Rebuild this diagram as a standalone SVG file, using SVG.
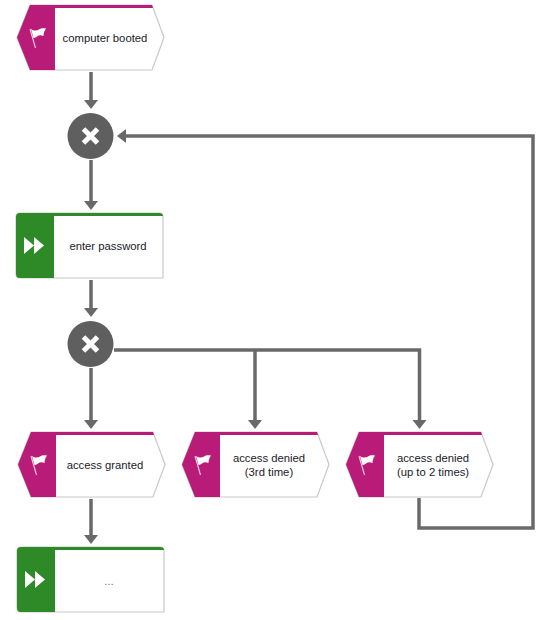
<svg xmlns="http://www.w3.org/2000/svg" width="547" height="620" viewBox="0 0 547 620">
<style>
.body{fill:#fff;stroke:#c8c8c8;stroke-width:1.2}
.ev{fill:#b81c78}
.fn{fill:#2d8a26}
.flag{fill:#fff}
.pole{stroke:#f3cfe3;stroke-width:1.1;fill:none}
.gw{fill:#5f5f5f}
.x{stroke:#fff;stroke-width:5;fill:none}
.c{stroke:#696969;stroke-width:3.500;fill:none}
.h{fill:#696969}
text{font-family:"Liberation Sans",Arial,sans-serif;font-size:11.300px;fill:#1a1a2a;text-anchor:middle}
</style>
<defs>
<g id="event">
<polygon class="body" points="0,32.500 13,0 135,0 147,32.500 135,65 13,65"/>
<polygon class="ev" points="0,32.500 13,0 135,0 136,3 38,3 38,65 13,65"/>
<path class="pole" d="M13,24 L18.500,43"/>
<path class="flag" d="M14,24 C17,26 20,26 22,24.500 C24,23 26,23 29,23.500 C27.500,26 26.500,28 26.500,31 C24,30 22,30 20,31.500 C18.500,33 17,33 16.500,33 Z"/>
</g>
<g id="func">
<path class="body" d="M4,0 H143 Q147,0 147,4 V65 H4 Q0,65 0,61 V4 Q0,0 4,0 Z"/>
<path class="fn" d="M4,0 H143 Q147,0 147,3 H38 V65 H4 Q0,65 0,61 V4 Q0,0 4,0 Z"/>
<path class="flag" d="M8,24 L18,32.500 L18,24 L28,32.500 L18,41 L18,32.500 L8,41 Z"/>
</g>
<g id="gate">
<circle class="gw" r="23"/>
<path class="x" d="M-7,-7 L7,7 M7,-7 L-7,7"/>
</g>
</defs>
<g id="connectors">
<path class="c" d="M91,72 V102"/><polygon class="h" points="84,100 98,100 91,109"/>
<path class="c" d="M91,160 V203"/><polygon class="h" points="84,201 98,201 91,210"/>
<path class="c" d="M91,280 V310"/><polygon class="h" points="84,308 98,308 91,317"/>
<path class="c" d="M91,368 V422"/><polygon class="h" points="84,420 98,420 91,429"/>
<path class="c" d="M114,350 H419.500 V422"/>
<path class="c" d="M255,350 V422"/><polygon class="h" points="248,420 262,420 255,429"/><polygon class="h" points="412.500,420 426.500,420 419.500,429"/>
<path class="c" d="M91,499 V537"/><polygon class="h" points="84,535 98,535 91,544"/>
<path class="c" d="M419,498 V528 H533 V136 H124"/><polygon class="h" points="126,129 126,143 117,136"/>
</g>
<g id="n1"><use href="#event" x="17" y="5"/><text x="105" y="42">computer booted</text></g>
<g id="g1"><use href="#gate" x="90.500" y="136"/></g>
<g id="n2"><use href="#func" x="16" y="213"/><text x="108" y="250">enter password</text></g>
<g id="g2"><use href="#gate" x="90.500" y="344"/></g>
<g id="n3"><use href="#event" x="18" y="432"/><text x="105" y="469">access granted</text></g>
<g id="n4"><use href="#event" x="182" y="432"/><text x="269" y="462">access denied</text><text x="269" y="476">(3rd time)</text></g>
<g id="n5"><use href="#event" x="346" y="432"/><text x="433" y="462">access denied</text><text x="433" y="476">(up to 2 times)</text></g>
<g id="n6"><use href="#func" x="17" y="547"/><text x="109" y="585" style="fill:#777">...</text></g>
</svg>
